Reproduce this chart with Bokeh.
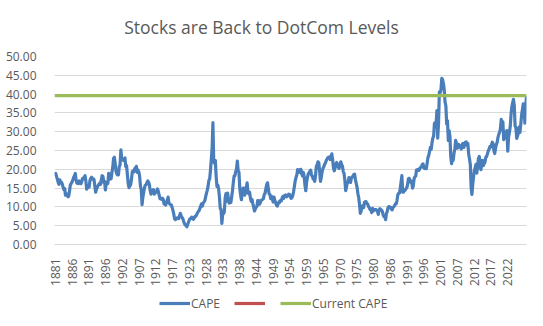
import math
from bokeh.plotting import figure
from bokeh.layouts import column
from bokeh.models import (Range1d, FixedTicker, Legend, LegendItem, NumeralTickFormatter, Label)
from bokeh.embed import file_html
from bokeh.resources import INLINE

# ---- data (quarterly Shiller CAPE) ----
start_year = 1881
cape = [
    18.5, 18.9, 18.1, 17.4,  # 1881
    16.5, 16.0, 17.2, 16.5,  # 1882
    16.6, 16.1, 15.3, 14.6,  # 1883
    14.9, 13.1, 13.5, 13.3,  # 1884
    12.7, 12.9, 14.3, 15.9,  # 1885
    16.2, 16.6, 17.1, 17.9,  # 1886
    18.3, 18.9, 17.2, 16.3,  # 1887
    16.4, 16.2, 16.9, 16.4,  # 1888
    16.2, 16.8, 17.6, 17.5,  # 1889
    17.9, 18.3, 16.9, 14.7,  # 1890
    15.1, 15.4, 15.3, 17.0,  # 1891
    17.6, 17.9, 17.4, 17.5,  # 1892
    17.3, 15.6, 13.9, 14.7,  # 1893
    15.2, 15.6, 16.0, 16.3,  # 1894
    16.0, 17.3, 18.3, 18.1,  # 1895
    16.5, 16.8, 14.5, 16.4,  # 1896
    16.1, 16.2, 18.9, 18.2,  # 1897
    17.4, 17.5, 19.2, 20.4,  # 1898
    22.9, 23.2, 21.5, 19.5,  # 1899
    18.8, 18.5, 18.5, 20.7,  # 1900
    21.2, 25.2, 22.8, 22.5,  # 1901
    22.4, 22.6, 23.0, 20.7,  # 1902
    21.0, 18.5, 16.2, 15.1,  # 1903
    15.6, 15.9, 17.4, 19.4,  # 1904
    19.6, 19.3, 20.2, 20.3,  # 1905
    20.8, 19.2, 19.8, 19.3,  # 1906
    18.2, 15.6, 14.6, 10.6,  # 1907
    12.6, 13.9, 15.1, 15.8,  # 1908
    15.9, 16.5, 16.9, 16.6,  # 1909
    15.9, 14.3, 13.4, 14.3,  # 1910
    14.1, 14.6, 13.4, 13.7,  # 1911
    13.9, 14.3, 14.8, 14.1,  # 1912
    13.1, 12.2, 12.2, 12.0,  # 1913
    12.3, 12.0, 10.8, 10.8,  # 1914
    10.5, 11.3, 11.8, 12.6,  # 1915
    11.0, 10.8, 10.6, 10.5,  # 1916
    9.8, 9.0, 8.0, 6.8,      # 1917
    6.6, 6.8, 7.1, 7.1,      # 1918
    6.9, 7.6, 8.3, 7.6,      # 1919
    7.2, 6.9, 6.2, 5.6,      # 1920
    5.2, 5.1, 4.7, 5.3,      # 1921
    5.9, 6.5, 6.9, 6.9,      # 1922
    7.3, 7.1, 6.7, 7.0,      # 1923
    7.5, 7.5, 7.9, 8.4,      # 1924
    8.8, 9.0, 9.6, 10.2,     # 1925
    10.8, 10.2, 11.0, 11.3,  # 1926
    11.6, 12.6, 13.6, 14.4,  # 1927
    15.4, 17.0, 17.4, 19.8,  # 1928
    22.6, 25.6, 32.4, 22.0,  # 1929
    21.6, 22.3, 18.0, 15.4,  # 1930
    15.8, 14.8, 12.6, 9.6,   # 1931
    9.3, 5.6, 8.2, 8.2,      # 1932
    8.7, 12.3, 13.5, 11.5,   # 1933
    13.7, 12.1, 11.0, 11.4,  # 1934
    11.2, 12.6, 14.3, 16.4,  # 1935
    18.2, 18.3, 19.4, 20.2,  # 1936
    22.2, 19.6, 19.2, 14.8,  # 1937
    13.2, 11.9, 14.5, 15.0,  # 1938
    15.0, 13.1, 13.8, 15.0,  # 1939
    16.4, 13.8, 13.5, 13.9,  # 1940
    12.4, 11.5, 12.0, 10.9,  # 1941
    10.0, 8.9, 9.4, 9.9,     # 1942
    10.1, 11.7, 11.7, 10.7,  # 1943
    11.0, 11.7, 11.8, 12.0,  # 1944
    12.2, 13.3, 13.6, 14.8,  # 1945
    15.9, 16.4, 14.9, 13.4,  # 1946
    13.3, 12.2, 12.8, 12.0,  # 1947
    11.3, 12.6, 11.8, 11.1,  # 1948
    10.5, 10.2, 10.8, 11.3,  # 1949
    11.2, 11.7, 11.6, 12.4,  # 1950
    12.8, 12.3, 13.0, 13.2,  # 1951
    13.0, 12.7, 13.1, 13.4,  # 1952
    13.3, 12.8, 12.3, 12.5,  # 1953
    13.0, 14.0, 15.4, 16.9,  # 1954
    17.8, 18.5, 19.9, 19.8,  # 1955
    19.2, 19.9, 20.0, 18.8,  # 1956
    18.2, 19.2, 18.1, 15.8,  # 1957
    14.3, 16.5, 17.8, 18.8,  # 1958
    19.1, 19.4, 19.8, 18.5,  # 1959
    18.2, 17.5, 17.3, 16.8,  # 1960
    18.4, 20.8, 21.2, 22.0,  # 1961
    21.7, 19.6, 16.8, 17.8,  # 1962
    19.3, 20.2, 20.6, 21.3,  # 1963
    21.6, 22.3, 22.7, 23.0,  # 1964
    23.2, 23.3, 22.6, 23.4,  # 1965
    24.1, 22.5, 20.4, 19.6,  # 1966
    20.4, 21.4, 21.8, 21.3,  # 1967
    20.5, 20.2, 21.3, 22.0,  # 1968
    21.2, 20.9, 19.4, 18.9,  # 1969
    17.1, 14.3, 15.3, 16.5,  # 1970
    16.5, 17.8, 17.0, 16.5,  # 1971
    17.7, 18.0, 18.1, 18.6,  # 1972
    18.7, 17.2, 16.2, 15.2,  # 1973
    13.5, 12.5, 10.6, 8.3,   # 1974
    8.9, 10.2, 10.3, 9.8,    # 1975
    11.2, 11.4, 11.4, 10.9,  # 1976
    10.8, 10.1, 9.8, 9.3,    # 1977
    9.2, 8.5, 9.6, 8.9,      # 1978
    9.3, 9.2, 9.3, 9.1,      # 1979
    8.9, 8.0, 9.2, 9.5,      # 1980
    9.3, 9.1, 8.8, 7.9,      # 1981
    7.4, 7.4, 6.6, 8.2,      # 1982
    8.8, 9.8, 10.1, 10.0,    # 1983
    9.9, 9.4, 9.2, 9.8,      # 1984
    10.0, 10.4, 10.8, 10.8,  # 1985
    11.7, 13.2, 13.6, 13.7,  # 1986
    14.9, 16.6, 18.3, 13.9,  # 1987
    13.9, 14.4, 14.4, 14.8,  # 1988
    15.1, 15.9, 17.5, 17.6,  # 1989
    17.1, 16.5, 16.8, 15.0,  # 1990
    15.6, 17.5, 18.0, 18.2,  # 1991
    19.8, 19.9, 19.8, 19.7,  # 1992
    20.3, 20.5, 20.6, 21.3,  # 1993
    21.4, 20.4, 20.2, 20.3,  # 1994
    20.2, 21.6, 23.1, 23.7,  # 1995
    24.8, 25.8, 25.3, 27.1,  # 1996
    28.3, 28.8, 32.3, 31.5,  # 1997
    32.1, 35.6, 28.3, 32.2,  # 1998
    40.6, 40.4, 41.2, 44.2,  # 1999
    43.8, 42.8, 41.1, 37.9,  # 2000
    36.9, 32.1, 32.9, 27.7,  # 2001
    30.3, 28.8, 23.4, 21.5,  # 2002
    22.9, 22.4, 24.3, 25.4,  # 2003
    27.7, 26.9, 25.6, 25.9,  # 2004
    26.6, 25.9, 26.2, 25.4,  # 2005
    26.5, 26.9, 25.8, 26.6,  # 2006
    27.2, 27.3, 26.4, 26.9,  # 2007
    24.0, 22.8, 21.3, 15.2,  # 2008
    13.3, 16.0, 18.0, 19.8,  # 2009
    20.3, 21.3, 19.0, 20.8,  # 2010
    22.9, 23.4, 21.4, 19.9,  # 2011
    21.2, 22.4, 21.0, 21.5,  # 2012
    21.9, 23.2, 23.4, 24.1,  # 2013
    24.9, 25.3, 26.0, 25.9,  # 2014
    26.5, 27.2, 26.8, 24.9,  # 2015
    24.2, 25.6, 26.6, 27.2,  # 2016
    28.5, 29.3, 29.9, 30.8,  # 2017
    33.3, 31.2, 32.6, 27.9,  # 2018
    28.4, 29.9, 29.6, 30.3,  # 2019
    24.8, 28.5, 29.8, 31.3,  # 2020
    34.5, 36.6, 37.7, 38.6,  # 2021
    36.9, 31.5, 31.1, 28.2,  # 2022
    28.9, 29.6, 31.2, 29.8,  # 2023
    32.0, 34.5, 35.9, 37.4,  # 2024
    36.7, 32.3, 36.6, 39.5,  # 2025
]
current_cape = 39.6
tick_labels = ["1881", "1886", "1891", "1896", "1902", "1907", "1912", "1917",
               "1923", "1928", "1933", "1938", "1944", "1949", "1954", "1959",
               "1965", "1970", "1975", "1980", "1986", "1991", "1996", "2001",
               "2007", "2012", "2017", "2022"]
series_names = ["CAPE", " ", "Current CAPE"]
series_colors = ["#4A7EBB", "#C0504D", "#9BBB59"]
title_text = "Stocks are Back to DotCom Levels"

x = [start_year + i * 0.25 + 0.125 for i in range(len(cape))]
x_start = start_year
x_end = x[-1]
current_x = [x_start, x_end]
current_y = [current_cape, current_cape]

FONT = "Open Sans"
GREY = "#595959"

# ---- title strip ----
TITLE_H = 44
pt = figure(width=543, height=TITLE_H, output_backend="svg", toolbar_location=None,
            x_range=Range1d(0, 472), y_range=Range1d(0, TITLE_H),
            x_axis_location=None, y_axis_location=None,
            min_border=0, background_fill_color="white", border_fill_color="white")
pt.outline_line_color = None
pt.grid.visible = False
pt.add_layout(Label(x=207, y=18, text=title_text, text_align="center",
                    text_baseline="alphabetic", text_font=FONT,
                    text_font_size="17.5px", text_color=GREY))

# ---- main chart ----
p = figure(width=543, height=246, output_backend="svg", toolbar_location=None,
           x_range=Range1d(x_start, x_end), y_range=Range1d(0, 50),
           min_border_left=54, min_border_right=17, min_border_top=12,
           min_border_bottom=46, background_fill_color="white",
           border_fill_color="white")
p.outline_line_color = None

p.line(x, cape, line_color=series_colors[0], line_width=3.2, line_join="round")
p.line(current_x, current_y, line_color=series_colors[2], line_width=3.2)

p.yaxis.ticker = FixedTicker(ticks=list(range(0, 51, 5)))
p.yaxis.formatter = NumeralTickFormatter(format="0.00")
p.yaxis.axis_line_color = None
p.yaxis.major_tick_line_color = None
p.yaxis.minor_tick_line_color = None
p.yaxis.major_label_standoff = 12
p.yaxis.major_label_text_font = FONT
p.yaxis.major_label_text_font_size = "12px"
p.yaxis.major_label_text_color = GREY

step = (2020.1 - 1881.3) / (len(tick_labels) - 1)
tick_pos = [1881.3 + i * step for i in range(len(tick_labels))]
p.xaxis.ticker = FixedTicker(ticks=tick_pos)
p.xaxis.major_label_overrides = {t: lab for t, lab in zip(tick_pos, tick_labels)}
p.xaxis.major_label_orientation = math.pi / 2
p.xaxis.axis_line_color = "#D9D9D9"
p.xaxis.major_tick_line_color = None
p.xaxis.minor_tick_line_color = None
p.xaxis.major_label_standoff = 8
p.xaxis.major_label_text_font = FONT
p.xaxis.major_label_text_font_size = "12px"
p.xaxis.major_label_text_color = GREY

p.xgrid.grid_line_color = None
p.ygrid.ticker = FixedTicker(ticks=list(range(0, 51, 5)))
p.ygrid.grid_line_color = "#D9D9D9"
p.ygrid.grid_line_width = 1

# ---- legend strip (series re-drawn outside its visible range) ----
pl = figure(width=543, height=36, output_backend="svg", toolbar_location=None,
            x_range=Range1d(0, 1), y_range=Range1d(0, 1),
            x_axis_location=None, y_axis_location=None,
            min_border=0, background_fill_color="white", border_fill_color="white")
pl.outline_line_color = None
pl.grid.visible = False
series_xy = [(x, cape), (current_x, current_y), (current_x, current_y)]
items = []
for name, col, (sx, sy) in zip(series_names, series_colors, series_xy):
    r = pl.line(sx, sy, line_color=col, line_width=3.2)
    items.append(LegendItem(label=name, renderers=[r]))
legend = Legend(items=items, orientation="horizontal", location=(105, 13),
                padding=0, margin=0, spacing=14, glyph_width=31, glyph_height=20,
                label_height=20, label_width=0, label_standoff=1,
                border_line_color=None, background_fill_alpha=0,
                label_text_font=FONT, label_text_font_size="12px",
                label_text_color=GREY)
pl.add_layout(legend, "center")

layout = column(pt, p, pl, spacing=0)

open("out.html", "w").write(file_html(layout, INLINE))
